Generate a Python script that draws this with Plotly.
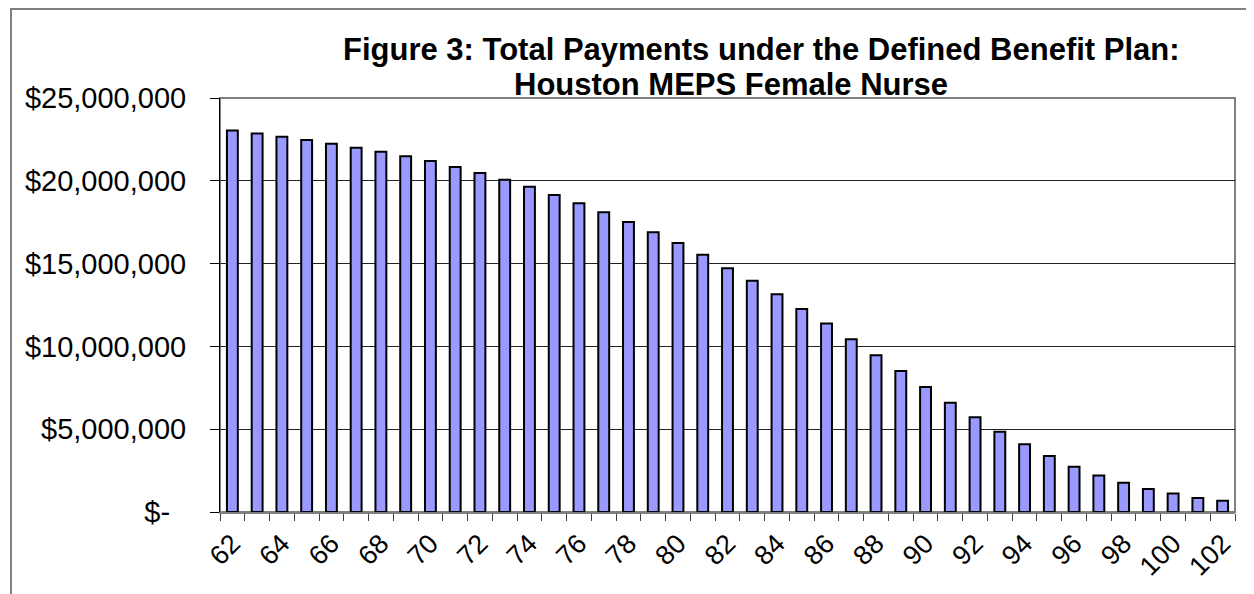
import plotly.graph_objects as go

ages = list(range(62, 103))
payments_millions = [
    23.03, 22.86, 22.66, 22.46, 22.24, 22.00, 21.76, 21.48, 21.20, 20.83,
    20.47, 20.07, 19.64, 19.14, 18.64, 18.10, 17.51, 16.89, 16.24, 15.54,
    14.72, 13.97, 13.15, 12.26, 11.39, 10.43, 9.46, 8.51, 7.55, 6.60,
    5.72, 4.85, 4.09, 3.38, 2.74, 2.21, 1.77, 1.39, 1.11, 0.85, 0.68,
]
payments = [v * 1_000_000 for v in payments_millions]

y_tickvals = [0, 5_000_000, 10_000_000, 15_000_000, 20_000_000, 25_000_000]
y_ticktext = ["$-\u00a0\u00a0", "$5,000,000", "$10,000,000", "$15,000,000", "$20,000,000", "$25,000,000"]
x_label_ages = list(range(62, 103, 2))

title_line1 = "Figure 3: Total Payments under the Defined Benefit Plan:"
title_line2 = "Houston MEPS Female Nurse"

# the page body has an 8px margin; work in page pixels and convert
OFF = 8
W, H = 1254 - OFF, 594 - OFF
PL, PR, PT, PB = 220, 1235, 98, 512  # plot area in page pixels
L, T = PL - OFF, PT - OFF
R = W - (PR - OFF)
B = H - (PB - OFF)
pw, ph = PR - PL, PB - PT

def px_x(x):
    return (x - PL) / pw

def px_y(y):
    return (PB - y) / ph

fig = go.Figure()
fig.add_trace(go.Bar(
    x=ages, y=payments,
    marker=dict(color="#9999FF", line=dict(color="#000000", width=2)),
))

fig.update_layout(
    width=W, height=H,
    margin=dict(l=L, r=R, t=T, b=B, autoexpand=False),
    paper_bgcolor="white", plot_bgcolor="white",
    bargap=0.56,
    showlegend=False,
    font=dict(family="Liberation Sans, Arial, sans-serif", color="black"),
)

fig.update_xaxes(
    automargin=False,
    range=[61.5, 102.5],
    tickmode="array", tickvals=x_label_ages, ticktext=[str(a) for a in x_label_ages],
    tickangle=-45, tickfont=dict(size=27),
    ticks="", showgrid=False,
    showline=True, linecolor="#808080", linewidth=2,
    minor=dict(tickmode="array", tickvals=[a - 0.5 for a in ages] + [102.5],
               ticks="outside", ticklen=7, tickcolor="#404040", tickwidth=1, showgrid=False),
    ticklabelstandoff=3,
)
fig.update_yaxes(
    automargin=False,
    range=[0, 25_000_000],
    tickmode="array", tickvals=y_tickvals, ticktext=y_ticktext,
    tickfont=dict(size=29),
    ticks="outside", ticklen=9, tickcolor="#000000", tickwidth=1,
    showgrid=True, gridcolor="#222222", gridwidth=1,
    showline=True, linecolor="#000000", linewidth=1,
    ticklabelstandoff=18,
    zeroline=False,
)

# plot area border (gray)
fig.add_shape(type="rect", xref="paper", yref="paper", x0=0, x1=1, y0=0, y1=1,
              line=dict(color="#808080", width=2), layer="below")
# outer chart frame (partially visible)
fig.add_shape(type="rect", xref="paper", yref="paper",
              x0=px_x(11), x1=px_x(1300), y0=px_y(650), y1=px_y(OFF + 1),
              line=dict(color="#808080", width=2))

fig.add_annotation(text="<b>" + title_line1 + "</b>", xref="paper", yref="paper",
                   x=px_x(761), y=px_y(50), xanchor="center", yanchor="middle",
                   showarrow=False, font=dict(size=31))
fig.add_annotation(text="<b>" + title_line2 + "</b>", xref="paper", yref="paper",
                   x=px_x(731), y=px_y(84), xanchor="center", yanchor="middle",
                   showarrow=False, font=dict(size=31))

fig.write_html("out.html")
